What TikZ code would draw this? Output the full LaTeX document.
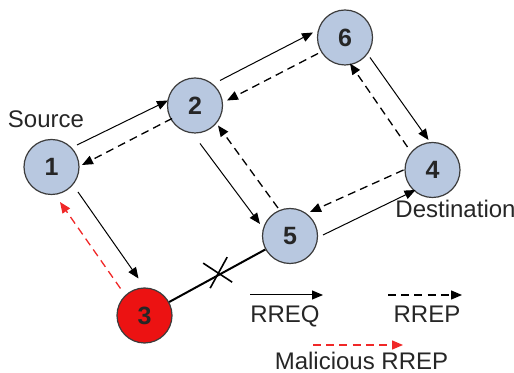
\documentclass[tikz,border=0pt]{standalone}
\usepackage{fontspec}
\setmainfont{Liberation Sans}
\usetikzlibrary{arrows.meta,calc}
\definecolor{nodeblue}{RGB}{184,200,224}
\definecolor{nodered}{RGB}{236,18,18}
\definecolor{edgegray}{RGB}{60,60,60}
\definecolor{malred}{RGB}{240,40,40}
\tikzset{
  net/.style={circle,draw=edgegray,line width=0.6pt,fill=nodeblue,minimum size=27.5pt,inner sep=0pt,
    font=\fontsize{12.5}{14}\selectfont\bfseries,text=black!85},
  bad/.style={net,fill=nodered},
  req/.style={-{Triangle[length=5.5pt,width=4.5pt]},line width=0.5pt,black},
  rep/.style={-{Triangle[length=5.5pt,width=4.5pt]},line width=0.65pt,black,dash pattern=on 4pt off 2.6pt},
  mal/.style={-{Triangle[length=5.5pt,width=4.5pt]},line width=0.65pt,malred,dash pattern=on 4pt off 2.6pt},
  lbl/.style={font=\fontsize{12}{14}\selectfont,anchor=base,inner sep=0pt,text=black!85},
  link/.style={line width=1pt,black},
  cutmark/.style={line width=0.8pt,black}
}
\begin{document}
\begin{tikzpicture}[x=0.5pt,y=-0.5pt]
\useasboundingbox (0,0) rectangle (514,373);
% nodes
\node[net] (n1) at (51.5,167) {1};
\node[net] (n2) at (195,105.5) {2};
\node[net] (n6) at (345,37.5) {6};
\node[net] (n4) at (432.5,170) {4};
\node[net] (n5) at (290,236) {5};
\node[bad] (n3) at (144.5,315.5) {3};
% labels
\node[lbl] (src) at (46,128) {Source};
\node[lbl] (dst) at (455.5,218) {Destination};
% RREQ (solid)
\draw[req] ($(n1)+(25.5,-22)$) -- ($(n2)+(-27,-5)$);
\draw[req] ($(n2)+(25,-25)$) -- ($(n6)+(-32,-5)$);
\draw[req] ($(n6)+(25,20)$) -- ($(n4)+(-4,-30)$);
\draw[req] ($(n2)+(5,38)$) -- ($(n5)+(-30,-12)$);
\draw[req] ($(n5)+(33,-1)$) -- ($(n4)+(-17,20)$);
\draw[req] ($(n1)+(26.5,25)$) -- ($(n3)+(-6,-37)$);
% RREP (dashed)
\draw[rep] ($(n2)+(-23,13)$) -- ($(n1)+(30.5,-2)$);
\draw[rep] ($(n6)+(-27,16)$) -- ($(n2)+(32,-5)$);
\draw[rep] ($(n4)+(-25,-23)$) -- ($(n6)+(5,26)$);
\draw[rep] ($(n5)+(-12,-28)$) -- ($(n2)+(23,20)$);
\draw[rep] ($(n4)+(-29,0)$) -- ($(n5)+(20,-24)$);
% malicious RREP
\draw[mal] ($(n3)+(-24,-27)$) -- ($(n1)+(8.5,35)$);
% broken link 3-5
\draw[link] (n3) -- (n5);
\coordinate (cut) at ($(n3)!0.52!(n5)$);
\draw[cutmark] ($(cut)+(-17,-11)$) -- ($(cut)+(12,8)$);
\draw[cutmark] ($(cut)+(7,-17)$) -- ($(cut)+(-10,14)$);
% legend
\coordinate (qa) at (250,295);
\coordinate (qb) at (323,295);
\draw[req] (qa) -- (qb);
\node[lbl] (tq) at (285,323) {RREQ};
\coordinate (pa) at (388,295);
\coordinate (pb) at (462,295);
\draw[rep] (pa) -- (pb);
\node[lbl] (tp) at (427,323) {RREP};
\coordinate (ma) at (313,345);
\coordinate (mb) at (403,345);
\draw[mal] (ma) -- (mb);
\node[lbl] (tm) at (361.5,370) {Malicious RREP};
\end{tikzpicture}
\end{document}
